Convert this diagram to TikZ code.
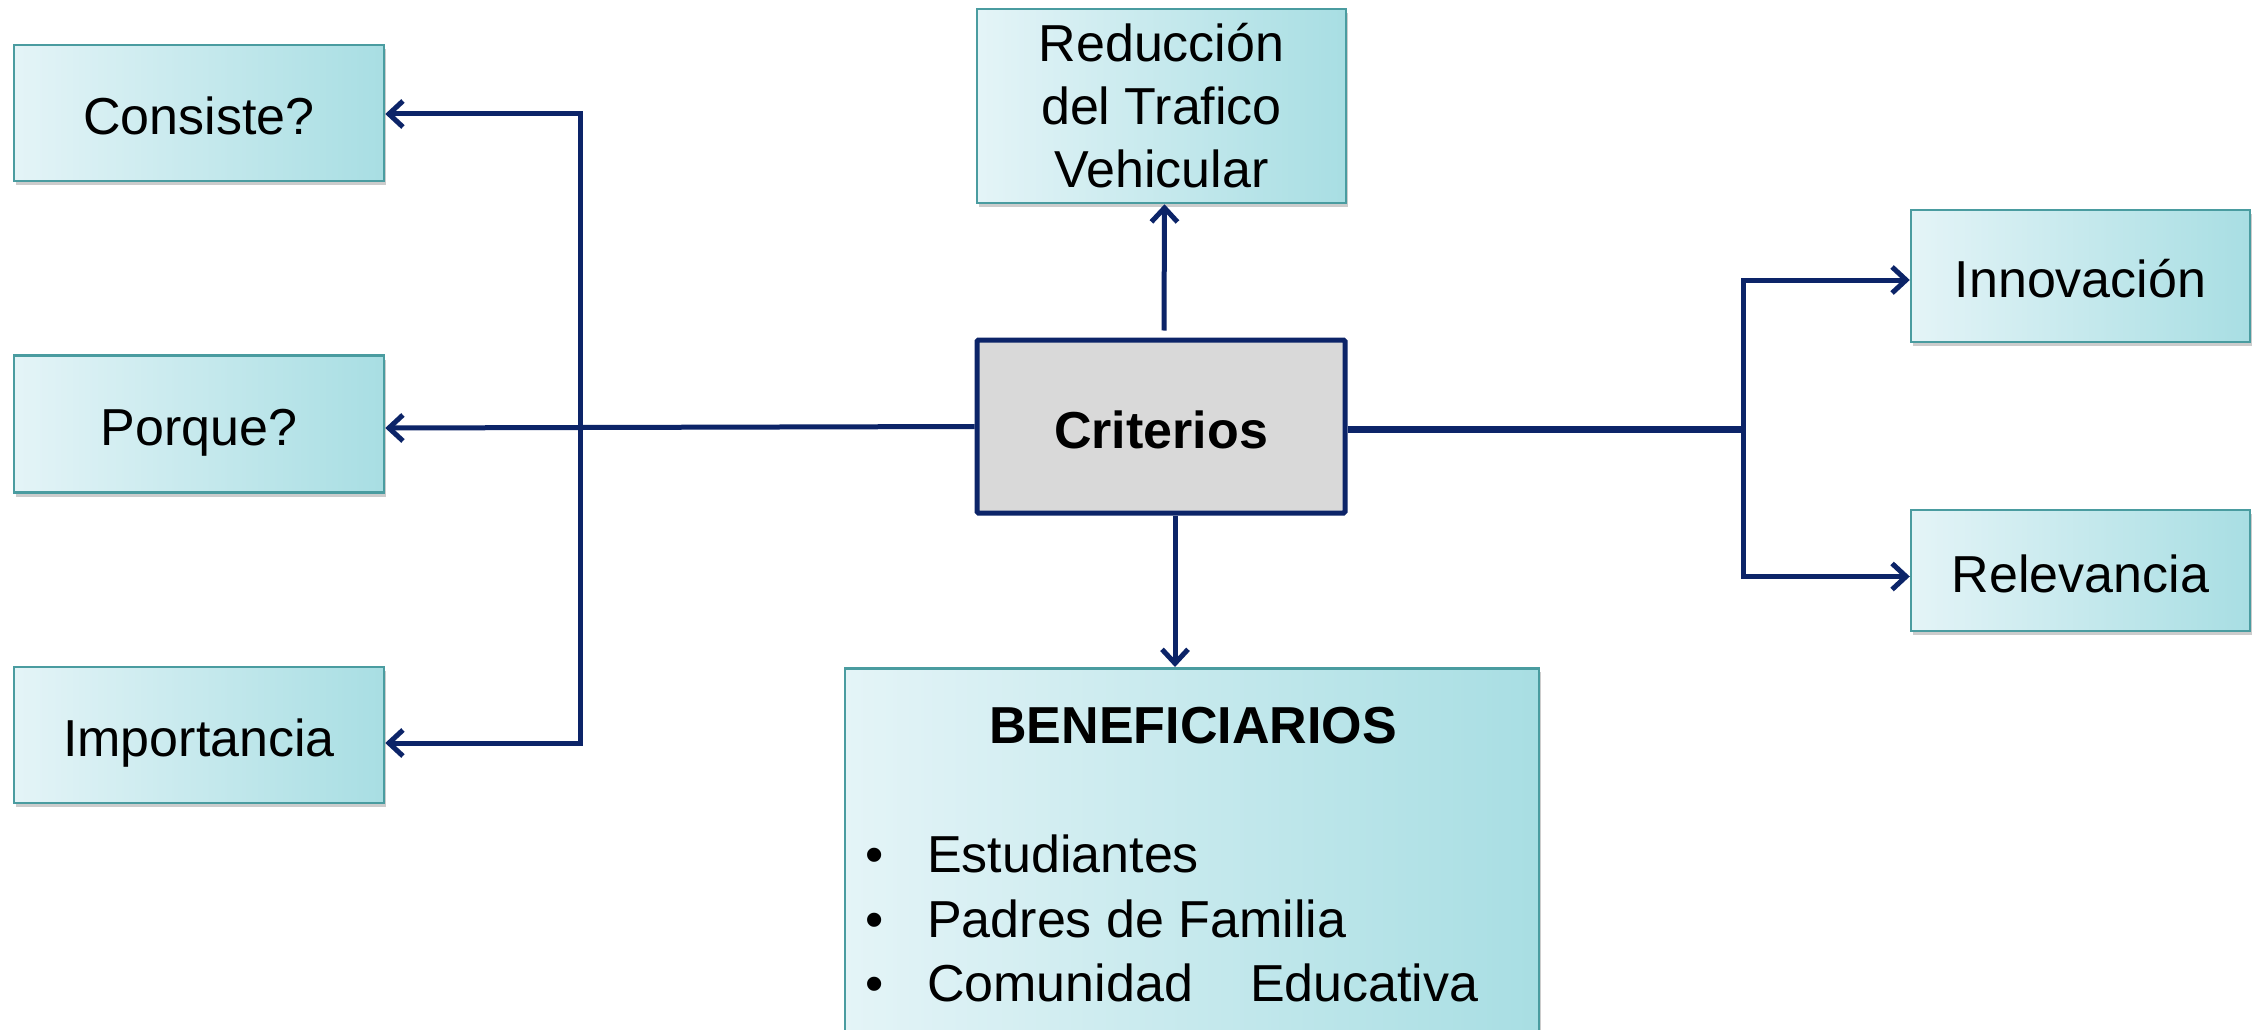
\documentclass[tikz,border=0pt]{standalone}
\usepackage{fontspec}
\setmainfont{Liberation Sans}
\usetikzlibrary{arrows.meta,shadows}
\definecolor{navy}{HTML}{0C2468}
\definecolor{boxedge}{HTML}{4A9CA0}
\definecolor{gl}{HTML}{E4F4F7}
\definecolor{gr}{HTML}{A8DEE3}
\definecolor{critfill}{HTML}{D9D9D9}
\begin{document}
\begin{tikzpicture}[x=1pt,y=-1pt,
  >={Straight Barb[length=14pt, width=26pt]},
  lbl/.style={font=\fontsize{52}{63}\selectfont, align=center},
  low/.style={align=none, text height=44pt, text depth=1pt},
  box/.style={lbl, draw=boxedge, line width=2.5pt, left color=gl, right color=gr,
    inner sep=0pt, drop shadow={shadow xshift=2pt, shadow yshift=-4pt, opacity=0.4, fill=gray}},
  crit/.style={lbl, font=\fontsize{52}{63}\selectfont\bfseries, draw=navy, line width=5pt,
    fill=critfill, inner sep=0pt, rounded corners=1.5pt},
  conn/.style={draw=navy, line width=5pt, line join=miter},
  txt/.style={font=\fontsize{52}{63}\selectfont, inner sep=0pt}
]
\useasboundingbox (0,0) rectangle (2253,1030);
\clip (0,0) rectangle (2253,1030);
\fill[white] (0,0) rectangle (2253,1030);

% left boxes
\node[box, low, minimum width=370pt, minimum height=136pt] (cons) at (199,113) {Consiste?};
\node[box, low, minimum width=370pt, minimum height=137pt] (porq) at (199,424) {Porque?};
\node[box, low, minimum width=370pt, minimum height=136pt] (imp) at (199,735) {Importancia};

% top box
\node[box, minimum width=369pt, minimum height=194pt] (red) at (1161.5,106) {Reducción\\del Trafico\\Vehicular};

% center
\node[crit, low, minimum width=368pt, minimum height=173pt] (crit) at (1161,426.5) {Criterios};

% right boxes
\node[box, low, minimum width=339pt, minimum height=132pt] (innov) at (2080.5,276) {Innovación};
\node[box, low, minimum width=339pt, minimum height=121pt] (relev) at (2080.5,570.5) {Relevancia};

% beneficiarios
\node[box, minimum width=694pt, minimum height=420pt, anchor=north] (benef) at (1192,667) {};
\node[txt, font=\fontsize{52}{63}\selectfont\bfseries, anchor=base] (title) at (1193,743) {BENEFICIARIOS};
\node[txt, anchor=base] (b1) at (875,872) {•};
\node[txt, anchor=base] (b2) at (875,937) {•};
\node[txt, anchor=base] (b3) at (875,1001) {•};
\node[txt, anchor=base west] (e1) at (927,872) {Estudiantes};
\node[txt, anchor=base west] (e2) at (927,937) {Padres de Familia};
\node[txt, anchor=base west] (e3) at (927,1001) {Comunidad\hspace{57pt}Educativa};

% connectors
\coordinate (ltrunk) at (580,430);
\coordinate (rtrunk) at (1743,429);
\draw[conn, <->] ([yshift=-1pt]cons.east) -| (ltrunk) |- ([yshift=-8pt]imp.east);
\draw[conn, ->] (crit.west) -- ([yshift=-4pt]porq.east);
\draw[conn, ->] ([xshift=3pt,yshift=7pt]crit.north) -- ([xshift=3pt]red.south);
\draw[conn, ->] ([xshift=14pt]crit.south) -- ([xshift=14pt]crit.south |- benef.north);
\draw[conn, line width=7pt] ([yshift=-2.5pt]crit.east) -- (rtrunk);
\draw[conn, <->] ([yshift=-4pt]innov.west) -| (rtrunk) |- ([yshift=-6pt]relev.west);
\end{tikzpicture}
\end{document}
